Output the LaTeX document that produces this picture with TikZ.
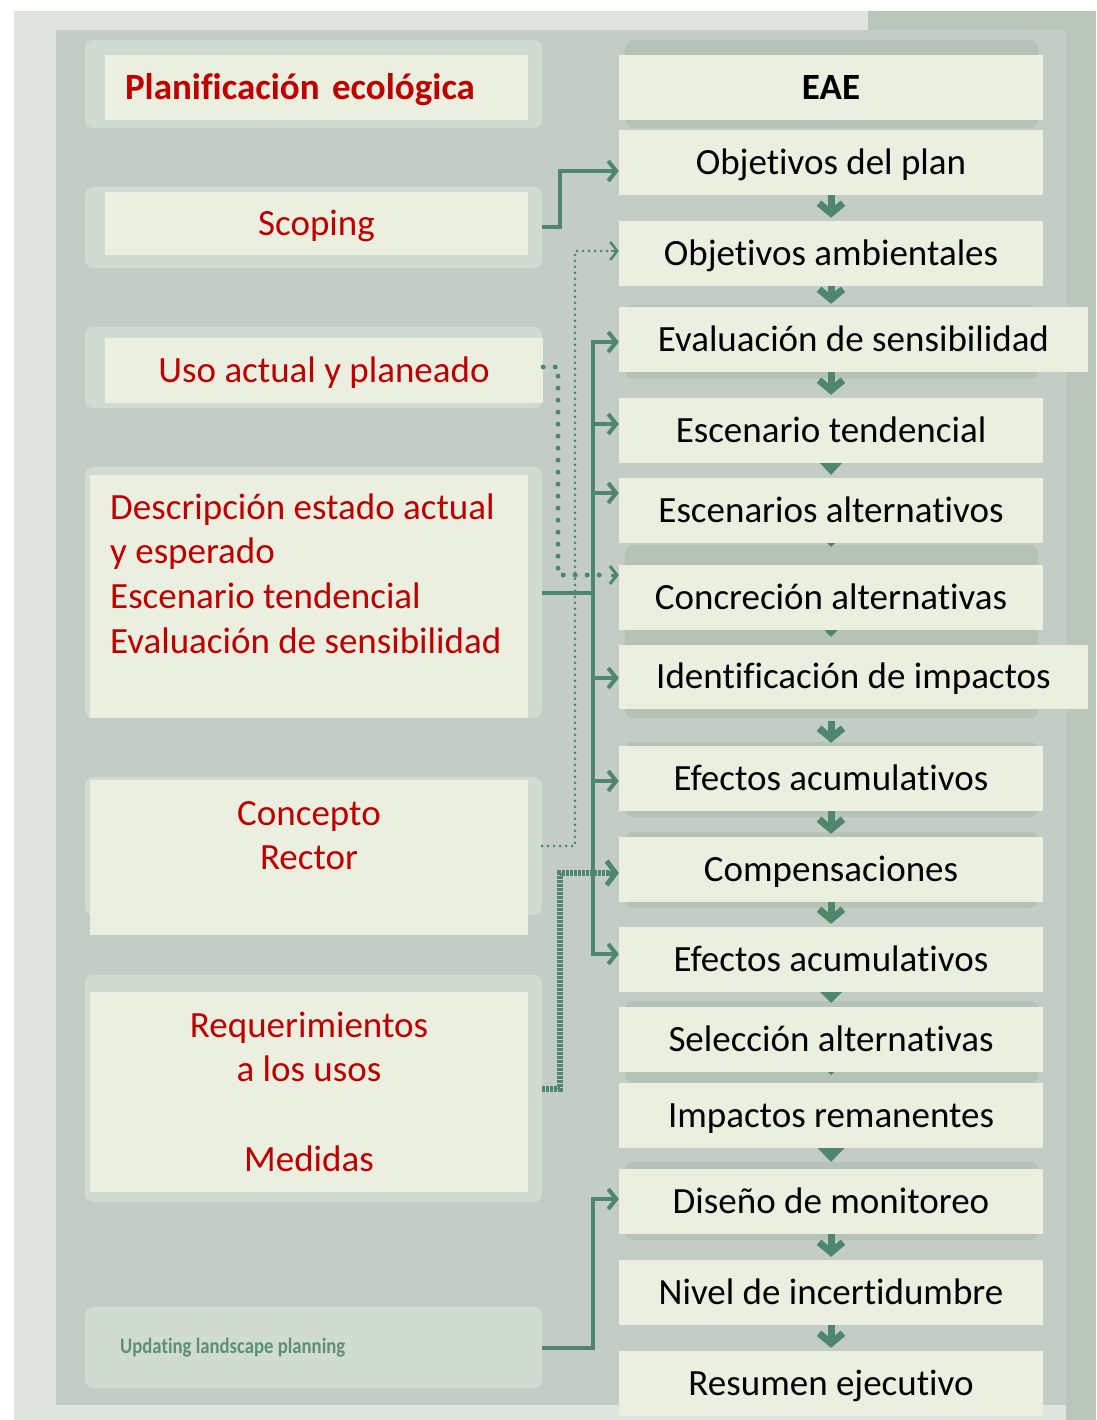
\documentclass[tikz,border=0pt]{standalone}
\usepackage{fontspec}
\setmainfont{Carlito}[Ligatures={NoCommon}]
\usetikzlibrary{arrows.meta}
\definecolor{pagebg}{HTML}{DFE4DE}
\definecolor{darkstrip}{HTML}{BAC5BC}
\definecolor{panelc}{HTML}{C3CDC5}
\definecolor{lbackc}{HTML}{D0DBD2}
\definecolor{rbackc}{HTML}{B5C2B8}
\definecolor{creamc}{HTML}{EBEFE0}
\definecolor{redc}{HTML}{C00000}
\definecolor{greenc}{HTML}{4E876E}
\definecolor{updc}{HTML}{5E8F77}
\begin{document}
\begin{tikzpicture}[x=1pt,y=-1pt,
  lback/.style={fill=lbackc, rounded corners=8pt, draw=none, inner sep=0pt},
  cream/.style={fill=creamc, draw=none, inner sep=0pt, text height=29.6pt, text depth=5.8pt},
  rbox/.style={cream, minimum width=424pt, minimum height=65pt, font=\fontsize{37}{44}\selectfont, text=black},
  wbox/.style={rbox, minimum width=469pt},
  lbox/.style={cream, font=\fontsize{37}{44.7}\selectfont, text=redc},
  ltext/.style={inner sep=0pt, font=\fontsize{37}{44.7}\selectfont, text=redc},
  conn/.style={draw=greenc, line width=4pt},
  tipc/.style={-{Straight Barb[length=8pt,width=20pt]}},
  darr/.style={draw=greenc, line width=7pt, -{Straight Barb[length=10pt,width=24pt]}, shorten >=3pt},
  tri/.style={fill=greenc}
]
\useasboundingbox (0,0) rectangle (1096,1420);
% background
\fill[white] (0,0) rectangle (1096,1420);
\fill[pagebg] (14,11) rectangle (1096,1420);
\fill[darkstrip] (868,11) rectangle (1096,30);
\fill[darkstrip] (1066,11) rectangle (1096,1420);
\fill[panelc] (56,30) rectangle (1066,1405);

% left backings
\node[lback, minimum width=457pt, minimum height=88pt]  (lb1) at (313.5,84) {};
\node[lback, minimum width=457pt, minimum height=81pt]  (lb2) at (313.5,227.5) {};
\node[lback, minimum width=457pt, minimum height=81pt]  (lb3) at (313.5,367.5) {};
\node[lback, minimum width=457pt, minimum height=251pt] (lb4) at (313.5,592.5) {};
\node[lback, minimum width=457pt, minimum height=138pt] (lb5) at (313.5,846) {};
\node[lback, minimum width=457pt, minimum height=227pt] (lb6) at (313.5,1088.5) {};
\node[lback, minimum width=457pt, minimum height=81pt]  (lb7) at (313.5,1347.5) {};

% right backings (remnants)
\fill[rbackc, rounded corners=8pt] (625,40) rectangle (1038,128);
\fill[rbackc, rounded corners=8pt] (625,305) rectangle (1038,379);
\fill[rbackc, rounded corners=8pt] (625,545) rectangle (1038,718);
\fill[rbackc, rounded corners=8pt] (625,742) rectangle (1038,817);
\fill[rbackc, rounded corners=8pt] (625,832) rectangle (1038,908);
\fill[rbackc, rounded corners=8pt] (625,1001) rectangle (1038,1083);
\fill[rbackc, rounded corners=8pt] (625,1162) rectangle (1038,1240);

% remnant triangles (drawn under the boxes)
\fill[tri] (808,450) -- (854,450) -- (831,475) -- cycle;
\fill[tri] (822,538) -- (840,538) -- (831,547) -- cycle;
\fill[tri] (812,617) -- (850,617) -- (831,637) -- cycle;
\fill[tri] (808,980) -- (854,980) -- (831,1003) -- cycle;
\fill[tri] (822,1066) -- (840,1066) -- (831,1075) -- cycle;
\fill[tri] (806,1136) -- (856,1136) -- (831,1162) -- cycle;

% right boxes
\node[rbox, font=\fontsize{37}{44}\selectfont\bfseries] (r0) at (831,87.5) {EAE};
\node[rbox] (r1) at (831,162.5) {Objetivos del plan};
\node[rbox] (r2) at (831,253.5) {Objetivos ambientales};
\node[wbox] (r3) at (853.5,339.5) {Evaluación de sensibilidad};
\node[rbox] (r4) at (831,430.5) {Escenario tendencial};
\node[rbox] (r5) at (831,510.5) {Escenarios alternativos};
\node[rbox] (r6) at (831,597.5) {Concreción alternativas};
\node[wbox, minimum height=64pt] (r7) at (853.5,677) {Identificación de impactos};
\node[rbox] (r8) at (831,778.5) {Efectos acumulativos};
\node[rbox] (r9) at (831,869.5) {Compensaciones};
\node[rbox] (r10) at (831,959.5) {Efectos acumulativos};
\node[rbox] (r11) at (831,1039.5) {Selección alternativas};
\node[rbox] (r12) at (831,1115.5) {Impactos remanentes};
\node[rbox] (r13) at (831,1201.5) {Diseño de monitoreo};
\node[rbox] (r14) at (831,1292.5) {Nivel de incertidumbre};
\node[rbox] (r15) at (831,1383.5) {Resumen ejecutivo};

% down arrows between right boxes
\draw[darr] (r1.south) -- (r2.north);
\draw[darr] (r2.south) -- (r2.south |- r3.north);
\draw[darr] (r4.north |- r3.south) -- (r4.north);
\draw[darr, shorten <=12pt] (r8.north |- r7.south) -- (r8.north);
\draw[darr] (r8.south) -- (r9.north);
\draw[darr] (r9.south) -- (r10.north);
\draw[darr] (r13.south) -- (r14.north);
\draw[darr] (r14.south) -- (r15.north);

% left boxes
\node[lbox, minimum width=423pt, minimum height=65pt, text width=383pt, align=left, font=\fontsize{37}{44.7}\selectfont\bfseries] (lc1) at (316.5,87.5) {Planificación ecológica};
\node[lbox, minimum width=423pt, minimum height=63pt] (lc2) at (316.5,223.5) {Scoping};
\node[lbox, minimum width=438pt, minimum height=65pt] (lc3) at (324,370.5) {Uso actual y planeado};
\node[lbox, minimum width=438pt, minimum height=243pt] (lc4) at (309,596.5) {};
\node[lbox, minimum width=438pt, minimum height=155pt] (lc5) at (309,857.5) {};
\node[lbox, minimum width=438pt, minimum height=200pt] (lc6) at (309,1092) {};
\node[ltext, anchor=north west, align=left] (t4) at (110,489.4)
  {\rule{0pt}{0.8em}Descripción estado actual\\y esperado\\Escenario tendencial\\Evaluación de sensibilidad};
\node[ltext, anchor=north, align=center] (t5) at (309,795.4)
  {\rule{0pt}{0.8em}Concepto\\Rector};
\node[ltext, anchor=north, align=center] (t6) at (309,1007.4)
  {\rule{0pt}{0.8em}Requerimientos\\a los usos\\[44.7pt]Medidas};
\node[anchor=west, inner sep=0pt, text=updc, font=\fontsize{22}{22}\selectfont\bfseries] (t7) at (120,1348)
  {\scalebox{0.85}[1]{Updating landscape planning}};

% connectors
\draw[conn, tipc] (lb2.east) -- (560,227.5) |- (r1.west |- 0,171);
\draw[draw=greenc, line width=3pt, line cap=round, dash pattern=on 0pt off 6pt]
  (lb5.east) -- (575,846) -- (575,251) -- (612,251);
\draw[draw=greenc, line width=2.5pt, -{Straight Barb[length=7pt,width=18pt]}] (611,251) -- (r2.west |- 0,251);
\draw[draw=greenc, line width=5pt, line cap=round, dash pattern=on 0pt off 12pt]
  (lc3.east |- 0,367) -- (558,367) -- (558,575) -- (608,575);
\draw[draw=greenc, line width=3pt, -{Straight Barb[length=7pt,width=18pt]}] (611,575) -- (r6.west |- 0,575);
% trunk
\draw[conn] (lb4.east) -- (593,592.5);
\draw[conn] (593,342) -- (593,954);
\draw[conn, tipc] (591,342) -- (r3.west |- 0,342);
\draw[conn, tipc] (593,424) -- (r4.west |- 0,424);
\draw[conn, tipc] (593,493) -- (r5.west |- 0,493);
\draw[conn, tipc] (593,678) -- (r7.west |- 0,678);
\draw[conn, tipc] (593,781) -- (r8.west |- 0,781);
\draw[conn, tipc] (591,954) -- (r10.west |- 0,954);
% compensaciones (hatched)
\draw[draw=greenc, line width=6pt, dash pattern=on 2.5pt off 1.5pt]
  (lb6.east |- 0,1089) -- (560,1089) -- (560,873) -- (610,873);
\draw[draw=greenc, line width=5pt, -{Straight Barb[length=9pt,width=24pt]}] (606,873) -- (r9.west |- 0,873);
% updating
\draw[conn, tipc] (lb7.east) -- (593,1347.5) |- (r13.west |- 0,1199);
\end{tikzpicture}
\end{document}
